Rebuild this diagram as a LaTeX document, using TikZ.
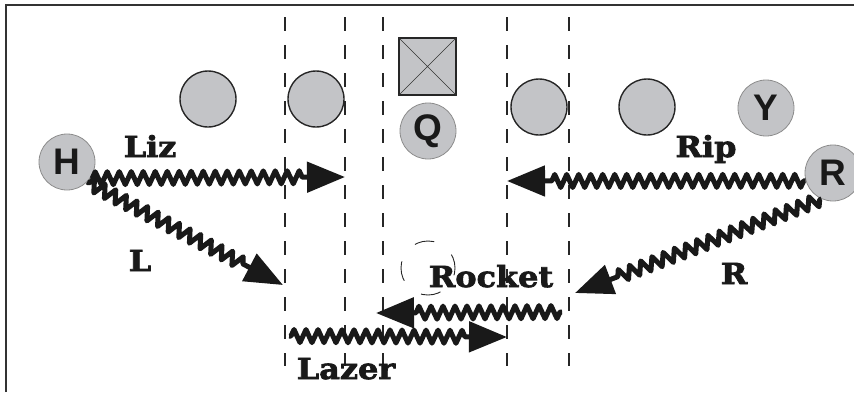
\documentclass[tikz,border=0pt]{standalone}
\usepackage{fontspec}
\usetikzlibrary{decorations.pathmorphing,arrows.meta}
\newfontfamily\letfont{Liberation Sans}
\newfontfamily\labfont{DejaVu Serif}[BoldFeatures={FakeBold=2.5,FakeStretch=1.1}]
\definecolor{ballgray}{HTML}{C3C4C7}
\begin{document}
\begin{tikzpicture}[x=1pt,y=-1pt,
  ball/.style={circle, minimum size=56pt, inner sep=0pt, fill=ballgray, draw=black!85, line width=1.4pt},
  pball/.style={circle, minimum size=56pt, inner sep=0pt, fill=ballgray, draw=black!45, line width=0.8pt, text=black!90, font=\letfont\bfseries\fontsize{37}{37}\selectfont},
  lane/.style={dash pattern=on 14pt off 14pt, line width=1.3pt, black!85},
  wave/.style={line width=5pt, black!90, line join=round, decorate, decoration={zigzag, amplitude=6.5pt, segment length=12pt, post length=40pt, pre length=2pt}, -{Triangle[length=38pt,width=30pt]}},
  lab/.style={font=\labfont\bfseries\fontsize{29}{29}\selectfont, anchor=base, black!90}
]
\useasboundingbox (0,0) rectangle (854,392);
% frame
\draw[line width=2pt, black!80] (6,392) -- (6,5) -- (854,5);
% lanes
\foreach \lx in {285,345,383,507,569}
  \draw[lane] (\lx,17) -- (\lx,366);
% players
\node[ball] (b1) at (208,99) {};
\node[ball] (b2) at (316,99) {};
\node[ball] (b3) at (539,107) {};
\node[ball] (b4) at (647,107) {};
\node[pball] (H) at (67,162) {H};
\node[pball] (Q) at (428,131) {Q};
\node[pball] (Y) at (766,108) {Y};
\node[pball] (R) at (833,173) {R};
\node[draw=black!85, line width=1.4pt, fill=ballgray, minimum size=57pt, inner sep=0pt] (box) at (427.5,66.5) {};
\draw[line width=0.5pt, black!80] (box.north west) -- (box.south east) (box.north east) -- (box.south west);
% dashed ball
\node[circle, draw, black!85, line width=0.9pt, dash pattern=on 20pt off 22pt, dash phase=6pt, minimum size=54pt, inner sep=0pt] (dball) at (428,268) {};
% tips and free ends
\coordinate (lizTip) at (345,177);
\coordinate (lTip) at (283,285);
\coordinate (ripTip) at (507,181);
\coordinate (rTip) at (575,293);
\coordinate (rocketStart) at (562,312);
\coordinate (rocketTip) at (376,313);
\coordinate (lazerStart) at (289,336);
\coordinate (lazerTip) at (507,337);
% waves
\draw[wave] (H.-35) -- (lizTip);
\draw[wave] (H.-45) -- (lTip);
\draw[wave] (R.196) -- (ripTip);
\draw[wave] (R.246) -- (rTip);
\draw[wave] (rocketStart) -- (rocketTip);
\draw[wave] (lazerStart) -- (lazerTip);
% labels
\node[lab] (lizL) at (150,157) {Liz};
\node[lab] (lL) at (140,271) {L};
\node[lab] (ripL) at (706,157) {Rip};
\node[lab] (rL) at (734,284) {R};
\node[lab] (rocketL) at (491,287) {Rocket};
\node[lab] (lazerL) at (346,379) {Lazer};
\end{tikzpicture}
\end{document}
